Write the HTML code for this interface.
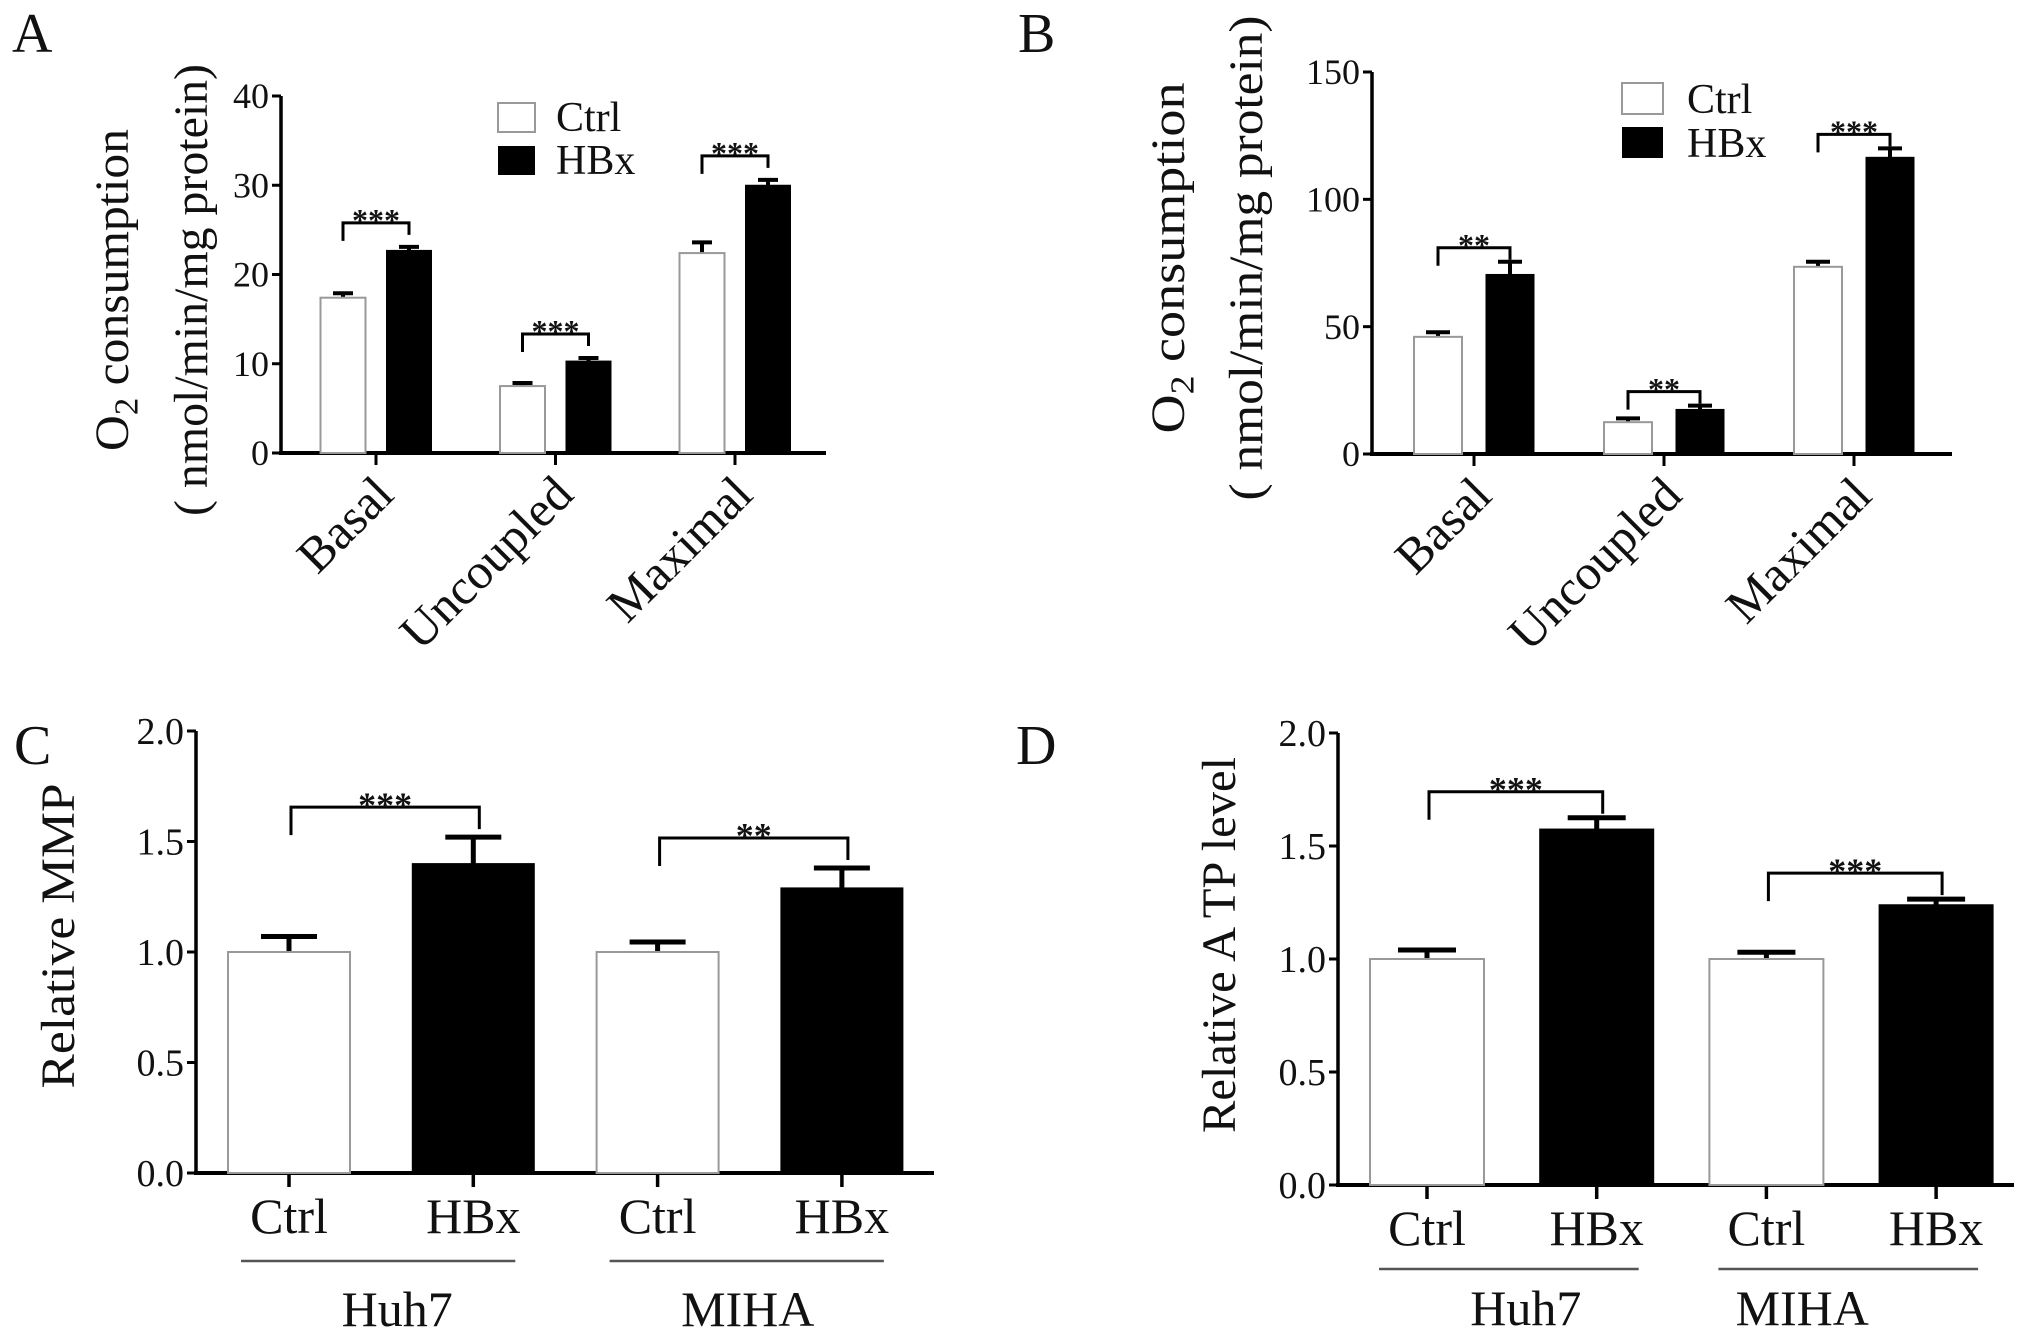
<!DOCTYPE html>
<html><head><meta charset="utf-8"><style>
html,body{margin:0;padding:0;background:#fff;}
svg{display:block;}
text{font-family:"Liberation Serif",serif;fill:#111;}
</style></head><body>
<svg id="fig" width="2031" height="1341" viewBox="0 0 2031 1341" xmlns="http://www.w3.org/2000/svg">
<g id="root"></g>
</svg>
<script>
// ---- Panel A data ----
const aCategories = ["Basal", "Uncoupled", "Maximal"];
const aCtrl = [17.4, 7.5, 22.4];
const aCtrlErr = [0.5, 0.35, 1.2];
const aHBx = [22.7, 10.3, 30.0];
const aHBxErr = [0.4, 0.35, 0.6];
const aSig = ["***", "***", "***"];
const aTicks = [0, 10, 20, 30, 40];
// ---- Panel B data ----
const bCategories = ["Basal", "Uncoupled", "Maximal"];
const bCtrl = [46.0, 12.5, 73.5];
const bCtrlErr = [1.8, 1.5, 2.0];
const bHBx = [70.5, 17.5, 116.5];
const bHBxErr = [5.0, 1.5, 3.5];
const bSig = ["**", "**", "***"];
const bTicks = [0, 50, 100, 150];
// ---- Panel C data ----
const cCategories = ["Ctrl", "HBx", "Ctrl", "HBx"];
const cValues = [1.0, 1.40, 1.0, 1.29];
const cErr = [0.07, 0.12, 0.045, 0.09];
const cGroups = ["Huh7", "MIHA"];
const cSig = ["***", "**"];
const cTicks = ["0.0", "0.5", "1.0", "1.5", "2.0"];
// ---- Panel D data ----
const dCategories = ["Ctrl", "HBx", "Ctrl", "HBx"];
const dValues = [1.0, 1.575, 1.0, 1.24];
const dErr = [0.04, 0.05, 0.03, 0.025];
const dGroups = ["Huh7", "MIHA"];
const dSig = ["***", "***"];
const dTicks = ["0.0", "0.5", "1.0", "1.5", "2.0"];

const NS = "http://www.w3.org/2000/svg";
const root = document.getElementById("root");
function mk(tag, attrs, parent) {
  const e = document.createElementNS(NS, tag);
  for (const k in attrs) e.setAttribute(k, attrs[k]);
  (parent || root).appendChild(e);
  return e;
}
function txt(str, attrs, parent) { const t = mk("text", attrs, parent); t.textContent = str; return t; }

function axes(g, ax, y0, yTop, xEnd, ticks, yScale, fs, tickRight) {
  let e = mk("line", {x1: ax, y1: yTop, x2: ax, y2: y0 + 2, stroke: "#000", "stroke-width": 3.5}, g);
  
  
  e = mk("line", {x1: ax - 2, y1: y0, x2: xEnd, y2: y0, stroke: "#000", "stroke-width": 4}, g);
  
  
  ticks.forEach(t => {
    const y = yScale(parseFloat(t));
    const tl = mk("line", {x1: ax - 9, y1: y, x2: ax, y2: y, stroke: "#000", "stroke-width": 3}, g);
    
    
    const lb = txt(String(t), {x: tickRight, y: y + fs * 0.34, "font-size": fs, "text-anchor": "end", fill: "#333"}, g);
    
    
  });
}
function bar(g, x, w, top, y0, filled, name) {
  const r = mk("rect", {x: x, y: top, width: w, height: y0 - top, fill: filled ? "#000" : "#fff", stroke: filled ? "#000" : "#999", "stroke-width": filled ? 1 : 2}, g);
  
  
}
function errbar(g, cx, top, errTop, capW, sw) {
  const l = mk("path", {d: `M${cx},${top} V${errTop} M${cx - capW / 2},${errTop} H${cx + capW / 2}`, stroke: "#000", "stroke-width": sw, fill: "none"}, g);
  
  
}
function bracket(g, x1, x2, yTop, yLeg1, yLeg2, stars, fs) {
  const p = mk("path", {d: `M${x1},${yLeg1} V${yTop} H${x2} V${yLeg2}`, stroke: "#000", "stroke-width": 3, fill: "none"}, g);
  
  
  const s = txt(stars, {x: (x1 + x2) / 2, y: yTop - 4 + fs * 0.38, "font-size": fs, "text-anchor": "middle", "font-family": "Liberation Sans, sans-serif", "font-weight": "bold"}, g);
  
  
}
function panelLabel(str, x, y) {
  const t = txt(str, {x: x, y: y, "font-size": 56});
  
  
}
function legend(g, x, yc, yh, tx, fs, w, h) {
  let r = mk("rect", {x: x, y: yc, width: w, height: h, fill: "#fff", stroke: "#999", "stroke-width": 2}, g);
  
  
  r = mk("rect", {x: x, y: yh, width: w, height: h, fill: "#000"}, g);
  
  
  let t = txt("Ctrl", {x: tx, y: yc + h - 1, "font-size": fs}, g);
  
  
  t = txt("HBx", {x: tx, y: yh + h - 1, "font-size": fs}, g);
  
  
}
function yTitle2(g, cx1, cx2, cy, l1len, l2len, fs) {
  let t = mk("text", {transform: `translate(${cx1},${cy}) rotate(-90)`, "font-size": fs, "text-anchor": "middle", textLength: l1len, lengthAdjust: "spacingAndGlyphs"}, g);
  
  
  t.appendChild(document.createTextNode("O"));
  const sub = document.createElementNS(NS, "tspan");
  sub.setAttribute("font-size", fs * 0.7);
  sub.setAttribute("dy", fs * 0.2);
  sub.textContent = "2";
  t.appendChild(sub);
  const rest = document.createElementNS(NS, "tspan");
  rest.setAttribute("dy", -fs * 0.2);
  rest.textContent = " consumption";
  t.appendChild(rest);
  t = txt("( nmol/min/mg protein)", {transform: `translate(${cx2},${cy}) rotate(-90)`, "font-size": fs, "text-anchor": "middle", textLength: l2len, lengthAdjust: "spacingAndGlyphs"}, g);
  
  
}

// ========== Panel A / B (grouped) ==========
function grouped(cfg) {
  const g = mk("g", {});
  
  
  const yScale = v => cfg.y0 - (v - 0) / cfg.yMax * (cfg.y0 - cfg.yTop);
  const xScale = i => cfg.x0 + i * cfg.step;
  axes(g, cfg.ax, cfg.y0, cfg.yTop, cfg.xEnd, cfg.ticks, yScale, 36, cfg.ax - 12);
  cfg.cats.forEach((c, i) => {
    const cx = xScale(i);
    const tk = mk("line", {x1: cx, y1: cfg.y0, x2: cx, y2: cfg.y0 + 12, stroke: "#000", "stroke-width": 3}, g);
    
    
    const cxC = cx - cfg.off, cxH = cx + cfg.off;
    const topC = yScale(cfg.ctrl[i]), topH = yScale(cfg.hbx[i]);
    errbar(g, cxC, topC, yScale(cfg.ctrl[i] + cfg.ctrlErr[i]), cfg.cap, 4);
    errbar(g, cxH, topH, yScale(cfg.hbx[i] + cfg.hbxErr[i]), cfg.cap, 4);
    bar(g, cxC - cfg.bw / 2, cfg.bw, topC, cfg.y0, false, 'bar-ctrl-' + c.toLowerCase());
    bar(g, cxH - cfg.bw / 2, cfg.bw, topH, cfg.y0, true, 'bar-hbx-' + c.toLowerCase());
    const brTop = yScale(cfg.hbx[i] + cfg.hbxErr[i]) - cfg.brGap;
    bracket(g, cxC, cxH, brTop, Math.min(brTop + 18, yScale(cfg.ctrl[i] + cfg.ctrlErr[i]) - 6), brTop + 12, cfg.sig[i], 32);
    const lbl = txt(c, {transform: `translate(${cx + 20},${cfg.y0 + 44}) rotate(-45)`, "font-size": 50, "text-anchor": "end"}, g);
    
    
  });
  legend(g, cfg.legX, cfg.legYc, cfg.legYh, cfg.legTx, 42, cfg.legW, cfg.legH);
  yTitle2(g, cfg.t1x, cfg.t2x, cfg.tcy, cfg.t1len, cfg.t2len, 48);
}
grouped({name: "panel-a", ax: 281, y0: 453, yTop: 96, yMax: 40, xEnd: 826, ticks: aTicks,
  x0: 376, step: 179.5, off: 33, bw: 45, cap: 20, cats: aCategories, ctrl: aCtrl, ctrlErr: aCtrlErr,
  hbx: aHBx, hbxErr: aHBxErr, sig: aSig, brGap: 24,
  legX: 498, legYc: 103, legYh: 146, legTx: 556, legW: 37, legH: 29,
  t1x: 128, t2x: 207, tcy: 290, t1len: 322, t2len: 452});
grouped({name: "panel-b", ax: 1372, y0: 454, yTop: 72, yMax: 150, xEnd: 1952, ticks: bTicks,
  x0: 1474, step: 190, off: 36, bw: 48, cap: 24, cats: bCategories, ctrl: bCtrl, ctrlErr: bCtrlErr,
  hbx: bHBx, hbxErr: bHBxErr, sig: bSig, brGap: 14,
  legX: 1622, legYc: 83, legYh: 127, legTx: 1687, legW: 41, legH: 31,
  t1x: 1184, t2x: 1262, tcy: 258, t1len: 351, t2len: 485});

// ========== Panel C / D (single bars) ==========
function single(cfg) {
  const g = mk("g", {});
  
  
  const yScale = v => cfg.y0 - v / 2.0 * (cfg.y0 - cfg.yTop);
  const xScale = i => cfg.x0 + i * cfg.step;
  axes(g, cfg.ax, cfg.y0, cfg.yTop, cfg.xEnd, cfg.ticks, yScale, 38, cfg.ax - 12);
  cfg.cats.forEach((c, i) => {
    const cx = xScale(i);
    const tk = mk("line", {x1: cx, y1: cfg.y0, x2: cx, y2: cfg.y0 + 14, stroke: "#000", "stroke-width": 3.5}, g);
    
    
    const top = yScale(cfg.vals[i]);
    errbar(g, cx, top, yScale(cfg.vals[i] + cfg.err[i]), cfg.cap, 5);
    bar(g, cx - cfg.bw / 2, cfg.bw, top, cfg.y0, i % 2 === 1, 'bar-' + c.toLowerCase() + '-' + cfg.groups[Math.floor(i / 2)].toLowerCase());
    const lbl = txt(c, {x: cx, y: cfg.y0 + 60, "font-size": 50, "text-anchor": "middle"}, g);
    
    
  });
  cfg.groups.forEach((gr, j) => {
    const xa = xScale(2 * j), xb = xScale(2 * j + 1);
    const ln = mk("line", {x1: xa - 48, y1: cfg.y0 + cfg.lineDy, x2: xb + 42, y2: cfg.y0 + cfg.lineDy, stroke: "#555", "stroke-width": 2.5}, g);
    
    
    const t = txt(gr, {x: (xa + xb) / 2 + cfg.grOff[j], y: cfg.y0 + cfg.grDy, "font-size": 50, "text-anchor": "middle"}, g);
    
    
    const hiA = cfg.vals[2 * j] + cfg.err[2 * j], hiB = cfg.vals[2 * j + 1] + cfg.err[2 * j + 1];
    const brTop = yScale(Math.max(hiA, hiB)) - cfg.brGap[j];
    bracket(g, xa + 2, xb + 6, brTop, brTop + 28, brTop + 22, cfg.sig[j], 36);
  });
  const yt = txt(cfg.title, {transform: `translate(${cfg.tx},${cfg.tcy}) rotate(-90)`, "font-size": 48, "text-anchor": "middle", "font-family": "Liberation Sans, sans-serif", textLength: cfg.tlen, lengthAdjust: "spacingAndGlyphs", fill: "#222"}, g);
  
  
}
single({name: "panel-c", ax: 196, y0: 1173, yTop: 731, xEnd: 934, ticks: cTicks, x0: 289, step: 184.3,
  bw: 122, cap: 56, cats: cCategories, vals: cValues, err: cErr, groups: cGroups, sig: cSig,
  grOff: [16, -2], grDy: 153, lineDy: 88, brGap: [30, 30], title: "Relative MMP", tx: 74, tcy: 936, tlen: 305});
single({name: "panel-d", ax: 1338, y0: 1185, yTop: 733, xEnd: 2014, ticks: dTicks, x0: 1427, step: 169.7,
  bw: 114, cap: 58, cats: dCategories, vals: dValues, err: dErr, groups: dGroups, sig: dSig,
  grOff: [14, -49], grDy: 140, lineDy: 84, brGap: [26, 26], title: "Relative A TP level", tx: 1235, tcy: 945, tlen: 376});

panelLabel("A", 12, 52);
panelLabel("B", 1018, 52);
panelLabel("C", 14, 764);
panelLabel("D", 1016, 764);
</script>
</body></html>
